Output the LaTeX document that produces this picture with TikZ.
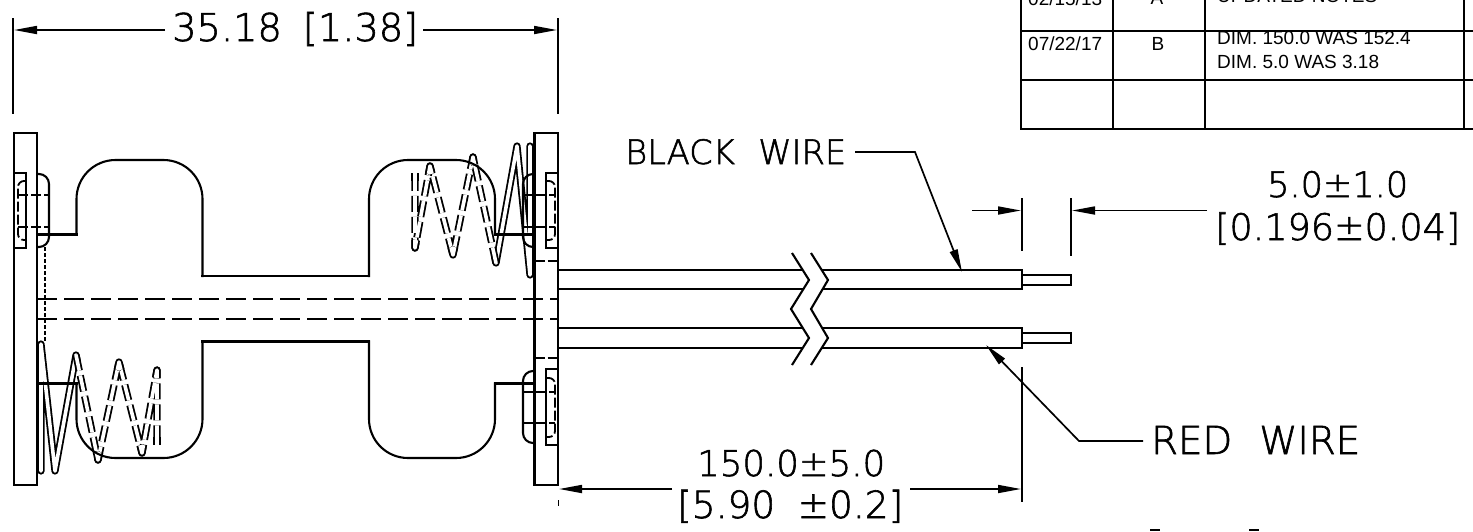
\documentclass[tikz,border=0pt]{standalone}
\usepackage{fontspec}
\setmainfont{Liberation Sans}
\newfontfamily\cadfont[RawFeature={embolden=1.6}]{DejaVu Sans ExtraLight}
\usetikzlibrary{arrows.meta,calc}
\tikzset{
  obj/.style={line width=2.1pt,line join=miter},
  arc40/.style={obj,rounded corners=39pt,line cap=rect},
  sq/.style={obj,line cap=rect},
  hid/.style={line width=1.8pt,dash pattern=on 20pt off 7pt},
  hidshort/.style={line width=1.8pt,dash pattern=on 10pt off 3pt},
  dimline/.style={line width=1.7pt},
  tip/.style={-{Triangle[length=23pt,width=8pt]}},
  coil/.style={line width=1.8pt,double=white,double distance=3.6pt,line join=round,line cap=round},
  coilhid/.style={line width=1.8pt,double=white,double distance=3.6pt,line join=round,line cap=butt,dash pattern=on 16pt off 5pt},
  coiltip/.style={line width=1.8pt,double=white,double distance=3.6pt,line join=round,line cap=butt},
  cell/.style={line width=2.1pt,line cap=rect},
  tabtxt/.style={font=\fontsize{19}{20}\selectfont,inner sep=0pt,anchor=base},
  tabl/.style={font=\fontsize{19}{20}\selectfont,inner sep=0pt,anchor=base west},
  cad/.style={inner sep=0pt,anchor=base west,text=black}
}
\newcommand{\cadt}[3]{\resizebox{#1pt}{!}{\cadfont\fontsize{#2}{#2}\selectfont #3}}
\begin{document}
\begin{tikzpicture}[x=1pt,y=-1pt]
\useasboundingbox (0,0) rectangle (1473,531);
\clip (0,0) rectangle (1473,531);

% --- coils
\draw[coil] (41,471) -- (41,344) -- (55,471) -- (76,355) -- ($(76,355)!7pt!(98,460)$);
\draw[coilhid] (76,355) -- (98,460) -- (119,362) -- (142,453) -- (157,370) -- (157,445);
\draw[coil] (530,146) -- (530,275) -- (517,146) -- (496,263) -- ($(496,263)!7pt!(473,157)$);
\draw[coilhid] (496,263) -- (473,157) -- (453,255) -- (430,166) -- (415,248) -- (415,173);
\foreach \ax/\ay/\bx/\by/\cx/\cy in {
  76/355/98/460/119/362, 98/460/119/362/142/453, 119/362/142/453/157/370, 142/453/157/370/157/445,
  496/263/473/157/453/255, 473/157/453/255/430/166, 453/255/430/166/415/248, 430/166/415/248/415/173}
  \draw[coiltip] ($(\bx,\by)!8pt!(\ax,\ay)$) -- (\bx,\by) -- ($(\bx,\by)!8pt!(\cx,\cy)$);
\draw[coiltip] (157,437) -- (157,445);
\draw[coiltip] (415,181) -- (415,173);

% --- contacts
\draw[sq] (37,234.5) -- (76.5,234.5);
\draw[arc40] (76.5,234.5) -- (76.5,160) -- (202.5,160) -- (202.5,276);
\draw[sq] (202.5,276) -- (369,276);
\draw[arc40] (369,276) -- (369,160) -- (495,160) -- (495,234.5);
\draw[sq] (495,234.5) -- (534.5,234.5);
\draw[sq] (37,383.5) -- (76.5,383.5);
\draw[arc40] (76.5,383.5) -- (76.5,458) -- (202.5,458) -- (202.5,341.5);
\draw[sq] (202.5,341.5) -- (369,341.5);
\draw[arc40] (369,341.5) -- (369,458) -- (495,458) -- (495,383.5);
\draw[sq] (495,383.5) -- (534.5,383.5);

% --- plates
\draw[obj] (14,133) rectangle (37,485);
\draw[obj] (534.5,133) rectangle (558,485);
\draw[obj] (14,173) rectangle (26,248);
\draw[obj] (546,173) rectangle (558,248);
\draw[obj] (546,369) rectangle (558,445);

% --- rivets
\draw[obj,rounded corners=10pt] (37,174) -- (49,174) -- (49,247) -- (37,247);
\draw[obj,rounded corners=10pt] (534.5,174) -- (523,174) -- (523,247) -- (534.5,247);
\draw[obj,rounded corners=10pt] (534.5,371) -- (523,371) -- (523,443) -- (534.5,443);
\draw[hidshort,rounded corners=6pt] (26,181) -- (18,181) -- (18,240) -- (26,240);
\draw[hidshort,rounded corners=6pt] (546,181) -- (555,181) -- (555,240) -- (546,240);
\draw[hidshort,rounded corners=6pt] (546,378) -- (555,378) -- (555,437) -- (546,437);
\foreach \yy in {195,227} {
  \draw[hidshort] (18,\yy) -- (49,\yy);
  \draw[hidshort] (523,\yy) -- (555,\yy);
}
\foreach \yy in {392,423} \draw[hidshort] (523,\yy) -- (555,\yy);
\foreach \yy in {261,358} \draw[hidshort] (534.5,\yy) -- (558,\yy);
\draw[line width=1.2pt,dash pattern=on 4pt off 2pt] (45,247) -- (45,341);

% --- shaft
\draw[hid] (37,299) -- (558,299);
\draw[hid] (37,319) -- (558,319);

% --- wires
\draw[obj] (558,270) -- (1022,270) -- (1022,289) -- (558,289);
\draw[obj] (558,328) -- (1022,328) -- (1022,348) -- (558,348);
\draw[obj] (1022,275) -- (1071,275) -- (1071,285) -- (1022,285);
\draw[obj] (1022,333) -- (1071,333) -- (1071,343) -- (1022,343);
\fill[white] (792,253) -- (809,280) -- (791,309) -- (809,338) -- (792,365) -- (811,365) -- (828,338) -- (811,309) -- (828,280) -- (811,253) -- cycle;
\draw[obj] (792,253) -- (809,280) -- (791,309) -- (809,338) -- (792,365);
\draw[obj] (811,253) -- (828,280) -- (811,309) -- (828,338) -- (811,365);

% --- dimensions: extension lines
\draw[dimline] (13,18) -- (13,114);
\draw[dimline] (558,18) -- (558,114);
\draw[dimline] (1022,198) -- (1022,251);
\draw[dimline] (1071,198) -- (1071,256);
\draw[dimline] (1022,367) -- (1022,502);
\draw[dimline] (558.5,500) -- (558.5,506);

% --- labels
\node[cad] (d35) at (172,41) {\cadt{246}{34}{35.18\hspace{0.55em}[1.38]}};
\node[cad] (dblack) at (625,164) {\cadt{221}{34}{BLACK\hspace{0.7em}WIRE}};
\node[cad] (dred) at (1151,454) {\cadt{209}{34}{RED\hspace{0.7em}WIRE}};
\node[cad] (d5a) at (1267,197) {\cadt{141}{34}{5.0±1.0}};
\node[cad] (d5b) at (1215,240) {\cadt{245}{34}{[0.196±0.04]}};
\node[cad] (d150a) at (697,476) {\cadt{188}{34}{150.0±5.0}};
\node[cad] (d150b) at (677,518) {\cadt{226}{34}{[5.90\hspace{0.6em}±0.2]}};

% --- dimension arrows
\coordinate (a1l) at (165,30); \coordinate (a1t) at (14,30);
\coordinate (a1r) at (423,30); \coordinate (a1s) at (557,30);
\draw[dimline,tip] (a1l) -- (a1t);
\draw[dimline,tip] (a1r) -- (a1s);
\coordinate (a2s) at (972,210.5); \coordinate (a2t) at (1021,210.5);
\coordinate (a3s) at (1207,210.5); \coordinate (a3t) at (1072,210.5);
\draw[dimline,tip] (a2s) -- (a2t);
\draw[dimline,tip] (a3s) -- (a3t);
\coordinate (a4s) at (672,489); \coordinate (a4t) at (559,489);
\coordinate (a5s) at (910,489); \coordinate (a5t) at (1021,489);
\draw[dimline,tip] (a4s) -- (a4t);
\draw[dimline,tip] (a5s) -- (a5t);

% --- leaders
\coordinate (b1) at (855,152); \coordinate (b2) at (915,152); \coordinate (b3) at (962,272);
\draw[dimline,tip] (b1) -- (b2) -- (b3);
\coordinate (r1) at (1143,441); \coordinate (r2) at (1079,441); \coordinate (r3) at (986,345);
\draw[dimline,tip] (r1) -- (r2) -- (r3);

% --- clipped marks at bottom
\draw[dimline] (1150,530) -- (1160,530);
\draw[dimline] (1249,530) -- (1259,530);

% --- revision table
\draw[cell] (1021,-2) -- (1021,129);
\draw[cell] (1113,-2) -- (1113,129);
\draw[cell] (1205,-2) -- (1205,129);
\draw[cell] (1464,-2) -- (1464,129);
\draw[cell] (1021,30.7) -- (1474,30.7);
\draw[cell] (1021,80) -- (1474,80);
\draw[cell] (1021,129) -- (1474,129);
\node[tabl] (t1) at (1028,5) {02/15/13};
\node[tabtxt] (t2) at (1157,4) {A};
\node[tabl] (t3) at (1217,2) {UPDATED NOTES};
\node[tabl] (t4) at (1028,50) {07/22/17};
\node[tabtxt] (t5) at (1158,50) {B};
\node[tabl] (t6) at (1217,44) {DIM. 150.0 WAS 152.4};
\node[tabl] (t7) at (1217,68) {DIM. 5.0 WAS 3.18};
\end{tikzpicture}
\end{document}
